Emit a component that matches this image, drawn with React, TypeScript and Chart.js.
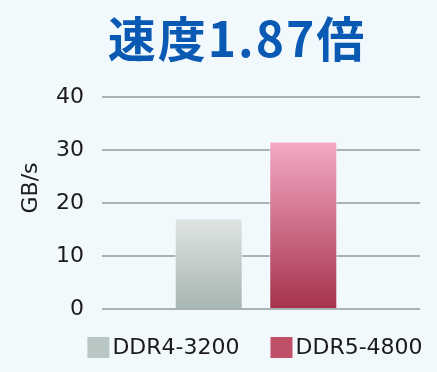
import React, { useEffect, useRef } from 'react';
import { Chart, registerables } from 'chart.js';

Chart.register(...registerables);

const categories = [''];
const seriesNames = ['DDR4-3200', 'DDR5-4800'];
const ddr4Values = [17.1];
const ddr5Values = [31.6];
const yTicks = [0, 10, 20, 30, 40];
const titleText = '速度1.87倍';
const axisTitle = 'GB/s';

const legendColors = ['#b8c6c4', '#c05068'];
const gradientStops = [
  ['#dfe5e3', '#a7b5b3'],
  ['#f5aac6', '#a5324b'],
];

const BG = '#f2f9fc';
const TEXT = '#1a1a1a';
const FONT = '"DejaVu Sans"';

// the category band ends a little before the right end of the grid lines
const xBandTrimRight = 10;

const bandPlugin = {
  id: 'bandTrim',
  afterLayout(chart: any) {
    const x = chart.scales.x;
    if (x) {
      x.right = chart.chartArea.right - xBandTrimRight;
      x.width = x.right - x.left;
      x.configure();
    }
  },
};

const textPlugin = {
  id: 'customTexts',
  afterDraw(chart: any) {
    const ctx = chart.ctx;
    const area = chart.chartArea;
    ctx.save();
    // main title
    ctx.font = 'bold 48px "Noto Sans CJK JP"';
    ctx.fillStyle = '#0a5ab4';
    ctx.textAlign = 'center';
    ctx.textBaseline = 'alphabetic';
    try {
      (ctx as any).letterSpacing = '2px';
    } catch (e) {}
    ctx.fillText(titleText, 237, 57);
    try {
      (ctx as any).letterSpacing = '0px';
    } catch (e) {}

    // y-axis title
    ctx.save();
    ctx.translate(31, 188);
    ctx.rotate(-Math.PI / 2);
    ctx.font = `22px ${FONT}`;
    ctx.fillStyle = TEXT;
    ctx.textAlign = 'center';
    ctx.textBaseline = 'middle';
    ctx.fillText(axisTitle, 0, 0);
    ctx.restore();

    // legend
    ctx.font = `22px ${FONT}`;
    ctx.textAlign = 'left';
    ctx.textBaseline = 'middle';
    const box = 22;
    const boxH = 21;
    const gapText = 3;
    const gapItem = 31;
    const widths = seriesNames.map((n) => ctx.measureText(n).width);
    const total =
      widths.reduce((a: number, w: number) => a + box + gapText + w, 0) +
      gapItem * (seriesNames.length - 1);
    const center = (area.left + area.right) / 2 - 6;
    let x = center - total / 2;
    const yTop = area.bottom + 28;
    seriesNames.forEach((n, i) => {
      ctx.fillStyle = legendColors[i];
      ctx.fillRect(x, yTop, box, boxH);
      ctx.fillStyle = TEXT;
      ctx.fillText(n, x + box + gapText, yTop + boxH / 2 + 1);
      x += box + gapText + widths[i] + gapItem;
    });
    ctx.restore();
  },
};

function barGradient(dsIndex: number) {
  return (context: any) => {
    const chart = context.chart;
    const { ctx, chartArea, scales } = chart;
    if (!chartArea || !scales || !scales.y) return gradientStops[dsIndex][1];
    const raw = context.raw;
    if (raw == null) return gradientStops[dsIndex][1];
    const top = scales.y.getPixelForValue(raw);
    const bottom = scales.y.getPixelForValue(0);
    const g = ctx.createLinearGradient(0, top, 0, bottom);
    g.addColorStop(0, gradientStops[dsIndex][0]);
    g.addColorStop(1, gradientStops[dsIndex][1]);
    return g;
  };
}

export default function App() {
  const ref = useRef<HTMLCanvasElement | null>(null);

  useEffect(() => {
    document.body.style.margin = '0';
    document.body.style.background = BG;
    if (!ref.current) return;
    const barStyle = {
      borderColor: 'rgba(255,255,255,0.55)',
      borderWidth: 1,
      categoryPercentage: 0.614,
      barPercentage: 0.72,
    };
    const chart = new Chart(ref.current, {
      type: 'bar',
      data: {
        labels: categories,
        datasets: [
          {
            label: seriesNames[0],
            data: ddr4Values,
            backgroundColor: barGradient(0),
            ...barStyle,
          },
          {
            label: seriesNames[1],
            data: ddr5Values,
            backgroundColor: barGradient(1),
            ...barStyle,
          },
        ],
      },
      options: {
        animation: false,
        responsive: false,
        layout: { padding: { top: 97, left: 38, right: 17, bottom: 63 } },
        plugins: {
          title: { display: false },
          tooltip: { enabled: false },
          legend: { display: false },
        },
        scales: {
          x: { display: false },
          y: {
            min: yTicks[0],
            max: yTicks[yTicks.length - 1],
            afterBuildTicks: (scale: any) => {
              scale.ticks = yTicks.map((v) => ({ value: v }));
            },
            border: { display: false },
            grid: { color: '#a9b3b3', lineWidth: 2, drawTicks: false },
            ticks: {
              padding: 18,
              color: TEXT,
              font: { family: FONT, size: 22 },
            },
          },
        },
      },
      plugins: [bandPlugin, textPlugin],
    });
    return () => chart.destroy();
  }, []);

  return (
    <div style={{ width: 437, height: 372, background: BG }}>
      <canvas ref={ref} width={437} height={372} style={{ display: 'block' }} />
    </div>
  );
}
